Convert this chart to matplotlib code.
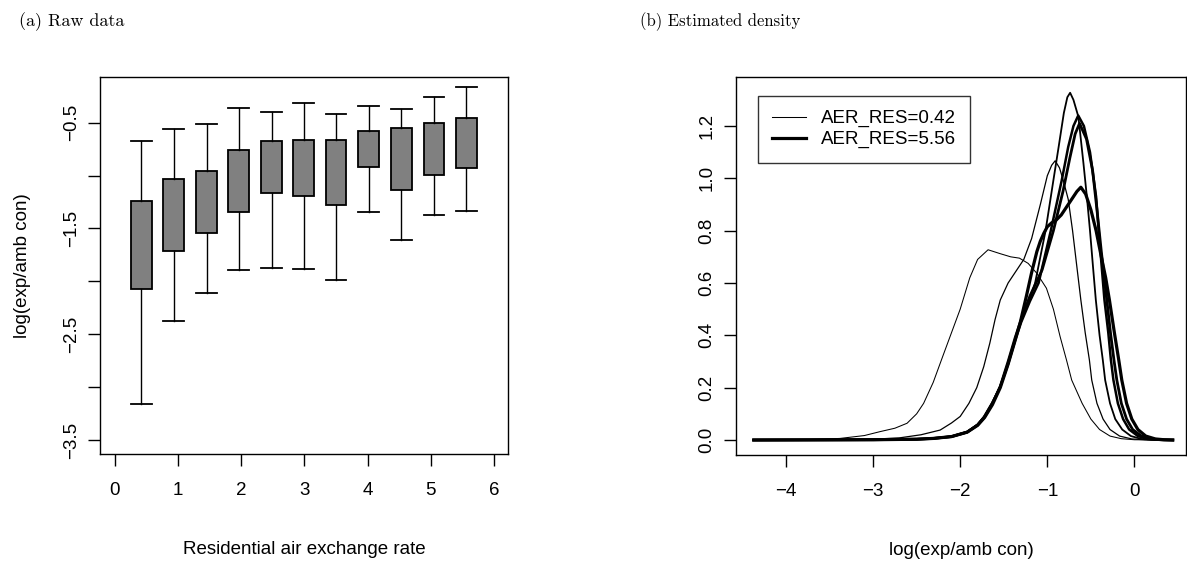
import matplotlib
matplotlib.use("Agg")
import matplotlib.pyplot as plt

# ---- data: panel (a) box plots ----
aer_pos = [0.42, 0.93, 1.45, 1.96, 2.48, 2.99, 3.50, 4.02, 4.53, 5.05, 5.56]
whis_hi = [-0.67, -0.557, -0.509, -0.358, -0.399, -0.318, -0.415, -0.34, -0.371, -0.255, -0.16]
box_q3 = [-1.245, -1.028, -0.953, -0.758, -0.676, -0.667, -0.664, -0.582, -0.547, -0.506, -0.459]
box_q1 = [-2.07, -1.71, -1.547, -1.346, -1.167, -1.192, -1.274, -0.921, -1.138, -0.997, -0.931]
whis_lo = [-3.16, -2.377, -2.113, -1.89, -1.877, -1.884, -1.99, -1.34, -1.607, -1.371, -1.333]

# ---- data: panel (b) density curves (x, y) ----
c1_x = [-4.37, -3.8, -3.6, -3.38, -3.1, -2.92, -2.75, -2.61, -2.50, -2.42, -2.31, -2.20, -2.10,
        -2.00, -1.89, -1.80, -1.68, -1.54, -1.42, -1.32, -1.22, -1.12, -1.01, -0.93, -0.853,
        -0.78, -0.72, -0.60, -0.50, -0.40, -0.28, -0.15, 0.0, 0.44]
c1_y = [0, 0.001, 0.003, 0.006, 0.017, 0.032, 0.045, 0.064, 0.10, 0.14, 0.22, 0.32, 0.41,
        0.50, 0.62, 0.69, 0.727, 0.712, 0.70, 0.695, 0.675, 0.637, 0.58, 0.50, 0.395,
        0.306, 0.229, 0.14, 0.08, 0.04, 0.015, 0.005, 0.001, 0]

c2_x = [-4.37, -3.5, -3.0, -2.7, -2.45, -2.23, -2.10, -2.0, -1.9, -1.81, -1.73, -1.66, -1.60,
        -1.54, -1.45, -1.35, -1.27, -1.18, -1.08, -1.0, -0.95, -0.91, -0.86, -0.815, -0.76,
        -0.71, -0.66, -0.615, -0.565, -0.517, -0.49, -0.43, -0.36, -0.28, -0.17, -0.03,
        0.12, 0.44]
c2_y = [0, 0.001, 0.003, 0.008, 0.02, 0.038, 0.065, 0.09, 0.14, 0.20, 0.28, 0.37, 0.46,
        0.535, 0.60, 0.65, 0.69, 0.77, 0.90, 1.01, 1.05, 1.067, 1.04, 0.99, 0.92,
        0.80, 0.66, 0.535, 0.41, 0.306, 0.229, 0.14, 0.08, 0.04, 0.015, 0.004,
        0.001, 0]

c3_x = [-4.37, -3.0, -2.5, -2.31, -2.1, -1.92, -1.80, -1.73, -1.64, -1.54, -1.45, -1.37, -1.31,
        -1.22, -1.14, -1.02, -0.93, -0.87, -0.81, -0.77, -0.738, -0.70, -0.643, -0.585,
        -0.546, -0.51, -0.475, -0.443, -0.40, -0.363, -0.336, -0.28, -0.22, -0.14, -0.04,
        0.08, 0.20, 0.44]
c3_y = [0, 0.001, 0.003, 0.006, 0.014, 0.032, 0.06, 0.089, 0.14, 0.204, 0.29, 0.38, 0.45,
        0.52, 0.60, 0.80, 0.993, 1.12, 1.25, 1.31, 1.327, 1.30, 1.235, 1.057,
        0.93, 0.80, 0.66, 0.535, 0.40, 0.306, 0.229, 0.14, 0.08, 0.04, 0.015,
        0.004, 0.001, 0]

c4_x = [-4.37, -3.0, -2.5, -2.31, -2.1, -1.92, -1.80, -1.72, -1.63, -1.54, -1.45, -1.37, -1.30,
        -1.20, -1.10, -0.96, -0.834, -0.76, -0.70, -0.645, -0.58, -0.51, -0.44, -0.41,
        -0.375, -0.344, -0.30, -0.27, -0.241, -0.19, -0.13, -0.06, 0.04, 0.15, 0.26, 0.44]
c4_y = [0, 0.001, 0.003, 0.006, 0.013, 0.03, 0.058, 0.089, 0.14, 0.204, 0.29, 0.38, 0.45,
        0.53, 0.60, 0.80, 0.993, 1.12, 1.20, 1.24, 1.20, 1.10, 0.93, 0.80,
        0.66, 0.535, 0.41, 0.306, 0.229, 0.14, 0.08, 0.04, 0.015, 0.004, 0.001, 0]

c6_x = [-4.37, -3.0, -2.5, -2.31, -2.1, -1.92, -1.80, -1.72, -1.63, -1.54, -1.45, -1.37, -1.31,
        -1.20, -1.06, -0.93, -0.82, -0.74, -0.68, -0.63, -0.55, -0.48, -0.43, -0.38,
        -0.317, -0.275, -0.235, -0.202, -0.15, -0.09, -0.02, 0.08, 0.19, 0.30, 0.44]
c6_y = [0, 0.001, 0.003, 0.006, 0.013, 0.03, 0.057, 0.088, 0.14, 0.205, 0.30, 0.39, 0.45,
        0.55, 0.65, 0.80, 0.95, 1.08, 1.17, 1.21, 1.15, 1.03, 0.88, 0.72,
        0.535, 0.41, 0.306, 0.229, 0.14, 0.08, 0.04, 0.015, 0.004, 0.001, 0]

c5_x = [-4.37, -3.0, -2.5, -2.31, -2.1, -1.92, -1.80, -1.72, -1.63, -1.54, -1.45, -1.37, -1.31,
        -1.24, -1.18, -1.12, -1.08, -1.04, -1.0, -0.95, -0.90, -0.84, -0.78, -0.72, -0.66,
        -0.615, -0.56, -0.50, -0.44, -0.38, -0.33, -0.287, -0.23, -0.18, -0.145, -0.09,
        -0.03, 0.04, 0.13, 0.24, 0.34, 0.44]
c5_y = [0, 0.001, 0.003, 0.006, 0.013, 0.03, 0.056, 0.086, 0.135, 0.2, 0.29, 0.38, 0.45,
        0.55, 0.64, 0.72, 0.76, 0.79, 0.815, 0.83, 0.84, 0.86, 0.89, 0.92, 0.95,
        0.966, 0.94, 0.88, 0.80, 0.70, 0.62, 0.535, 0.41, 0.306, 0.229, 0.14,
        0.08, 0.04, 0.015, 0.004, 0.001, 0]

curves = [(c1_x, c1_y, 0.75), (c2_x, c2_y, 0.9), (c3_x, c3_y, 1.3),
          (c4_x, c4_y, 1.8), (c6_x, c6_y, 2.0), (c5_x, c5_y, 2.3)]

legend_labels = ["AER_RES=0.42", "AER_RES=5.56"]

plt.rcParams['font.family'] = ['Liberation Sans', 'DejaVu Sans']
MINUS = "\u2212"
FS = 13.5

fig = plt.figure(figsize=(11.87, 5.62), dpi=100)

# ---------------- (a) box plots ----------------
ax1 = fig.add_axes([0.0842, 0.1922, 0.3437, 0.6708])
stats = []
for i in range(len(aer_pos)):
    stats.append(dict(med=(box_q1[i] + box_q3[i]) / 2, q1=box_q1[i], q3=box_q3[i],
                      whislo=whis_lo[i], whishi=whis_hi[i], fliers=[]))
ax1.bxp(stats, positions=aer_pos, widths=0.33, patch_artist=True, showfliers=False,
        boxprops=dict(facecolor='#808080', edgecolor='black', linewidth=1.3),
        whiskerprops=dict(color='black', linewidth=1.0),
        capprops=dict(color='black', linewidth=1.3), capwidths=0.33,
        medianprops=dict(linewidth=0), manage_ticks=False)
ax1.set_xlim(-0.237, 6.22)
ax1.set_ylim(-3.632, -0.068)
ax1.set_xticks(range(7))
ax1.set_xticklabels([str(v) for v in range(7)])
yt = [-3.5, -3.0, -2.5, -2.0, -1.5, -1.0, -0.5]
ax1.set_yticks(yt)
ax1.set_yticklabels([MINUS + "3.5", "", MINUS + "2.5", "", MINUS + "1.5", "", MINUS + "0.5"],
                    rotation=90, va='center')
ax1.set_xlabel("Residential air exchange rate", fontsize=FS, labelpad=30)
ax1.set_ylabel("log(exp/amb con)", fontsize=FS, labelpad=23)

# ---------------- (b) densities ----------------
ax2 = fig.add_axes([0.6198, 0.1904, 0.3795, 0.672])
lines = []
for cx, cy, lw in curves:
    ln, = ax2.plot(cx, cy, color='black', linewidth=lw, solid_joinstyle='round')
    lines.append(ln)
ax2.set_xlim(-4.577, 0.594)
ax2.set_ylim(-0.0573, 1.386)
ax2.set_xticks([-4, -3, -2, -1, 0])
ax2.set_xticklabels([MINUS + "4", MINUS + "3", MINUS + "2", MINUS + "1", "0"])
ax2.set_yticks([0.0, 0.2, 0.4, 0.6, 0.8, 1.0, 1.2])
ax2.set_yticklabels(["0.0", "0.2", "0.4", "0.6", "0.8", "1.0", "1.2"], rotation=90, va='center')
ax2.set_xlabel("log(exp/amb con)", fontsize=FS, labelpad=30)
leg = ax2.legend([lines[0], lines[-1]], legend_labels, loc='upper left',
                 bbox_to_anchor=(0.050, 0.9505), borderaxespad=0, fontsize=FS,
                 frameon=True, fancybox=False, edgecolor='black', handlelength=1.8,
                 handletextpad=0.8, borderpad=0.75, labelspacing=0.2)
leg.get_frame().set_linewidth(1.0)

for ax in (ax1, ax2):
    ax.tick_params(direction='out', length=8.5, width=1.0, labelsize=FS)
    ax.tick_params(axis='x', pad=12)
    ax.tick_params(axis='y', pad=6)
    for s in ax.spines.values():
        s.set_linewidth(1.0)

fig.text(0.016, 0.962, "(a) Raw data", fontname='cmr10', fontsize=13, va='center')
fig.text(0.539, 0.962, "(b) Estimated density", fontname='cmr10', fontsize=12, va='center')

fig.savefig("out.png", dpi=100)
